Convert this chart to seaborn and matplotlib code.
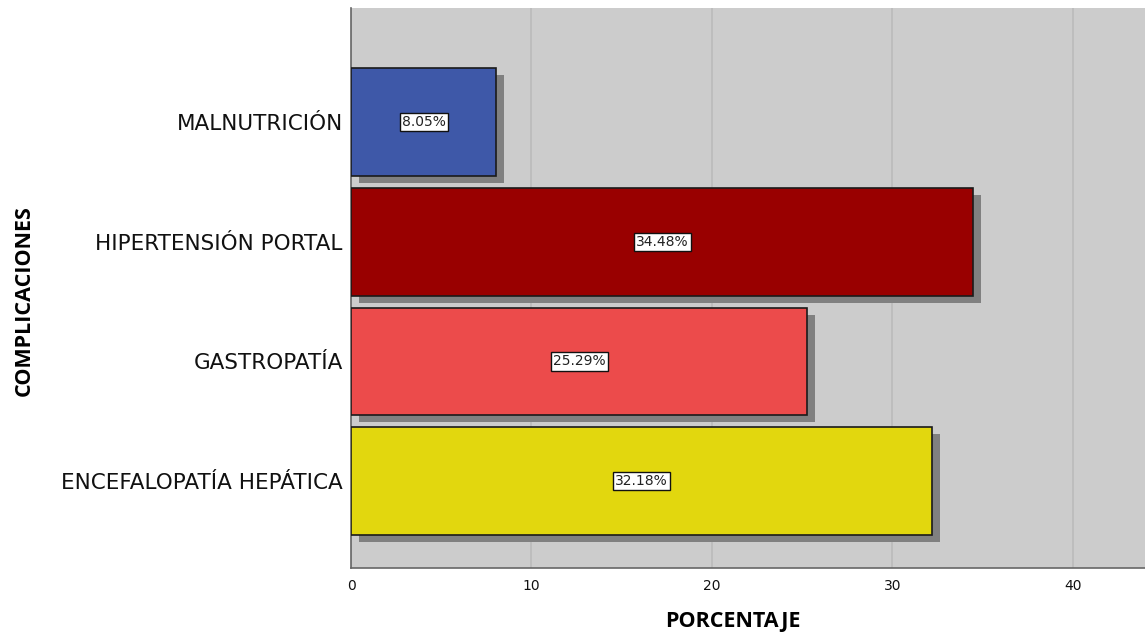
import matplotlib
matplotlib.use("Agg")
import matplotlib.pyplot as plt
import matplotlib.transforms as mtransforms
import seaborn as sns
import pandas as pd

categories = ["MALNUTRICIÓN", "HIPERTENSIÓN PORTAL", "GASTROPATÍA", "ENCEFALOPATÍA HEPÁTICA"]
percentages = [8.05, 34.48, 25.29, 32.18]
bar_colors = ["#3E58A8", "#990000", "#EC4B4B", "#E2D70E"]
x_ticks = [0, 10, 20, 30, 40]

df = pd.DataFrame({"COMPLICACIONES": categories, "PORCENTAJE": percentages})

sns.set_style("white")
plt.rcParams["font.family"] = ["DejaVu Sans"]

fig = plt.figure(figsize=(11.45, 6.37), dpi=100)
ax = fig.add_axes([0.3066, 0.109, 0.6934, 0.8785])
ax.set_facecolor("#CCCCCC")

# drop shadows: grey copies of the bars, nudged right and down
sns.barplot(data=df, x="PORCENTAJE", y="COMPLICACIONES", order=categories,
            color="#808080", width=0.9, saturation=1, orient="h", ax=ax,
            linewidth=0, zorder=2)
shift = mtransforms.ScaledTranslation(8 / 100, -7 / 100, fig.dpi_scale_trans)
for p in ax.patches:
    p.set_transform(ax.transData + shift)
    p.set_zorder(2)
n_shadow = len(ax.patches)

sns.barplot(data=df, x="PORCENTAJE", y="COMPLICACIONES", order=categories,
            hue="COMPLICACIONES", hue_order=categories, palette=bar_colors,
            width=0.9, saturation=1, orient="h", ax=ax, legend=False,
            edgecolor="#1a1a1a", linewidth=1.2, zorder=3)
for p in ax.patches[n_shadow:]:
    p.set_zorder(3)

for i, v in enumerate(percentages):
    ax.text(v / 2, i, f"{v:.2f}%", ha="center", va="center", fontsize=10,
            color="#222222", zorder=5,
            bbox=dict(boxstyle="square,pad=0.15", facecolor="white",
                      edgecolor="#111111", linewidth=1))

ax.set_xlim(0, 44.0)
ax.set_ylim(3.72, -0.95)
ax.set_xticks(x_ticks)
ax.set_xticklabels([str(t) for t in x_ticks], fontsize=10, color="#111111")
ax.tick_params(axis="y", labelsize=15.5, length=0, pad=6, labelcolor="#111111")
ax.tick_params(axis="x", length=0, pad=8)
ax.xaxis.grid(True, color="#BBBBBB", linewidth=1.2, zorder=1)
ax.yaxis.grid(False)
ax.set_axisbelow(True)

for side in ["top", "right"]:
    ax.spines[side].set_visible(False)
for side in ["left", "bottom"]:
    ax.spines[side].set_color("#666666")
    ax.spines[side].set_linewidth(1.2)

ax.set_xlabel("PORCENTAJE", fontsize=15.5, fontweight="bold", color="#000000",
              family=["Open Sans", "DejaVu Sans"])
ax.set_ylabel("COMPLICACIONES", fontsize=15.5, fontweight="bold", color="#000000",
              family=["Open Sans", "DejaVu Sans"])
ax.yaxis.set_label_coords(-0.399, 0.478)
ax.xaxis.set_label_coords(0.481, -0.078)

fig.savefig("out.png", dpi=100)
